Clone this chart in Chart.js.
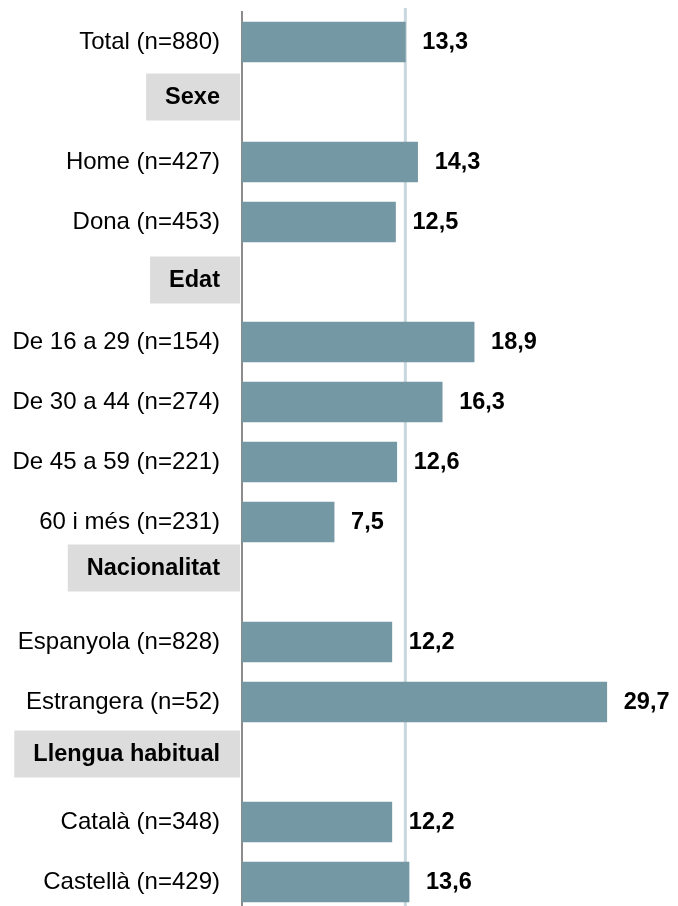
<!DOCTYPE html>
<html>
<head>
<meta charset="utf-8">
<script src="https://cdn.jsdelivr.net/npm/chart.js@4/dist/chart.umd.min.js"></script>
<style>
  html, body { margin: 0; padding: 0; background: #fff; overflow: hidden; }
  #wrap { width: 678px; height: 912px; }
</style>
</head>
<body>
<div id="wrap"><canvas id="myChart"></canvas></div>
<script>
'use strict'

// dades
var categories = ['Total (n=880)', 'Sexe', 'Home (n=427)', 'Dona (n=453)', 'Edat',
    'De 16 a 29 (n=154)', 'De 30 a 44 (n=274)', 'De 45 a 59 (n=221)', '60 i més (n=231)',
    'Nacionalitat', 'Espanyola (n=828)', 'Estrangera (n=52)', 'Llengua habitual',
    'Català (n=348)', 'Castellà (n=429)'];
var headers = ['Sexe', 'Edat', 'Nacionalitat', 'Llengua habitual'];
var values = [13.3, null, 14.3, 12.5, null, 18.9, 16.3, 12.6, 7.5, null, 12.2, 29.7, null, 12.2, 13.6];
var totalValue = 13.3;

// estil
var barColor = '#7599a4';
var fontFamily = '"Liberation Sans", Arial, sans-serif';
var tickSize = 24;
var boldSize = 23.5;
// petit desplaçament vertical de les caixes de títol (com a l'original)
var headerShift = { 'Sexe': -5, 'Edat': -2, 'Nacionalitat': -14, 'Llengua habitual': -8 };

function isHeader(label) {
    return headers.indexOf(label) >= 0;
}

// caixes grises dels títols de grup
var headerBoxes = {
    id: 'headerBoxes',
    beforeDraw: function (chart) {
        var ctx = chart.ctx;
        var yScale = chart.scales.y;
        ctx.save();
        ctx.font = 'bold ' + boldSize + 'px ' + fontFamily;
        ctx.textAlign = 'right';
        ctx.textBaseline = 'middle';
        for (var i = 0; i < categories.length; i++) {
            var lbl = categories[i];
            if (!isHeader(lbl)) continue;
            var y = yScale.getPixelForValue(i) + (headerShift[lbl] || 0);
            var right = yScale.right - 22;
            var w = ctx.measureText(lbl).width;
            var left = right - w - 19;
            ctx.fillStyle = '#dcdcdc';
            ctx.fillRect(left, y - 23.5, yScale.right - 2 - left, 47);
            ctx.fillStyle = '#000';
            ctx.fillText(lbl, right, y + 1);
        }
        ctx.restore();
    }
};

// línia de referència (total)
var refLine = {
    id: 'refLine',
    beforeDatasetsDraw: function (chart) {
        var ctx = chart.ctx;
        var x = chart.scales.x.getPixelForValue(totalValue);
        ctx.save();
        ctx.strokeStyle = '#c9d7de';
        ctx.lineWidth = 3;
        ctx.beginPath();
        ctx.moveTo(x, chart.chartArea.top - 4);
        ctx.lineTo(x, chart.chartArea.bottom);
        ctx.stroke();
        ctx.restore();
    }
};

// etiquetes de valor
var valueLabels = {
    id: 'valueLabels',
    afterDatasetsDraw: function (chart) {
        var ctx = chart.ctx;
        var meta = chart.getDatasetMeta(0);
        ctx.save();
        ctx.font = 'bold ' + boldSize + 'px ' + fontFamily;
        ctx.fillStyle = '#000';
        ctx.textAlign = 'left';
        ctx.textBaseline = 'middle';
        meta.data.forEach(function (bar, i) {
            if (values[i] === null) return;
            ctx.fillText(values[i].toFixed(1).replace('.', ','), bar.x + 17, bar.y + 1);
        });
        ctx.restore();
    }
};

window.onload = function () {
    var ctx = document.getElementById('myChart');
    new Chart(ctx, {
        type: 'bar',
        data: {
            labels: categories,
            datasets: [{
                data: values,
                backgroundColor: barColor,
                barThickness: 40
            }]
        },
        options: {
            indexAxis: 'y',
            responsive: true,
            maintainAspectRatio: false,
            animation: false,
            layout: { padding: { top: 12, right: 0, bottom: 0, left: 0 } },
            plugins: {
                legend: { display: false },
                tooltip: { enabled: false }
            },
            scales: {
                x: {
                    display: false,
                    min: 0,
                    max: 35.5
                },
                y: {
                    afterFit: function (scale) {
                        scale.width = 242;
                        scale.paddingTop = 0;
                        scale.paddingBottom = 0;
                    },
                    grid: { display: false, drawTicks: false },
                    border: { display: true, color: '#8c8c8c', width: 2 },
                    ticks: {
                        padding: 22,
                        color: '#000',
                        autoSkip: false,
                        font: { family: fontFamily, size: tickSize },
                        callback: function (value, index) {
                            // els títols es dibuixen a part
                            return isHeader(categories[index]) ? '' : categories[index];
                        }
                    }
                }
            }
        },
        plugins: [headerBoxes, refLine, valueLabels]
    });
};
</script>
</body>
</html>
